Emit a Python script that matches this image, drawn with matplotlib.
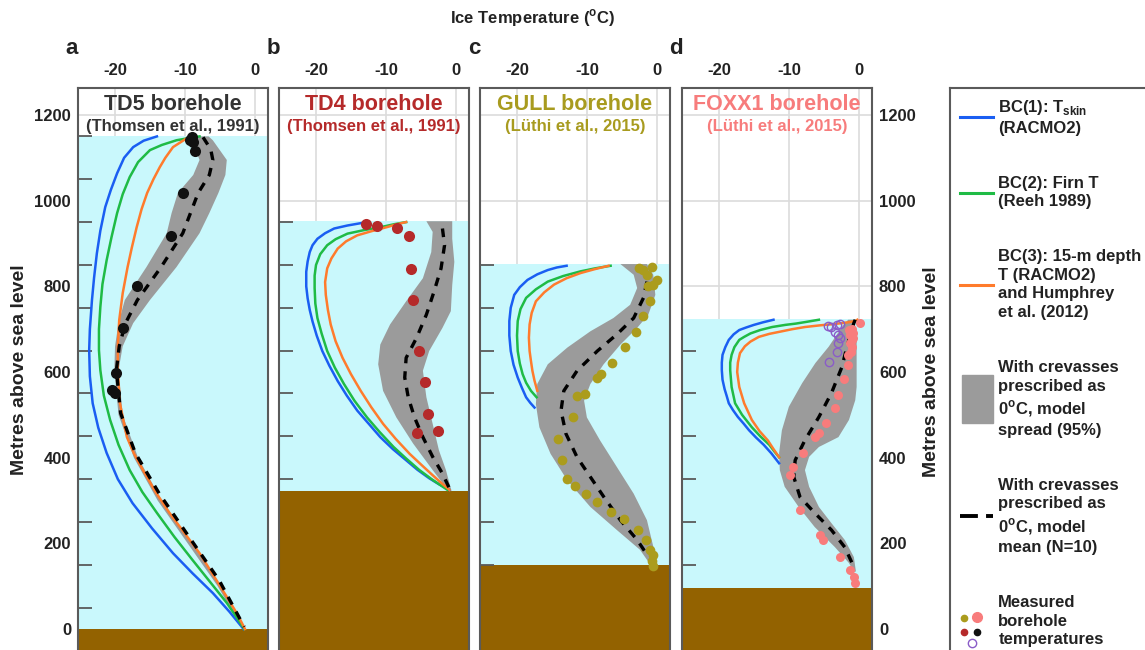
import numpy as np
import matplotlib
matplotlib.use('Agg')
import matplotlib.pyplot as plt
from matplotlib.lines import Line2D
from matplotlib.patches import Patch, Rectangle
from matplotlib.legend_handler import HandlerBase, HandlerPatch
from matplotlib.ticker import FixedLocator

plt.rcParams['font.family'] = ['Liberation Sans', 'DejaVu Sans']
plt.rcParams['font.weight'] = 'bold'
plt.rcParams['mathtext.fontset'] = 'custom'
plt.rcParams['mathtext.rm'] = 'Liberation Sans:bold'
plt.rcParams['mathtext.bf'] = 'Liberation Sans:bold'

# ---------------- data (elevation z in m a.s.l., temperature t in degC) ----------------
# a: TD5
td5_surface, td5_bed = 1150, 0
td5_blue_z = [1150, 1140, 1125, 1100, 1064, 1025, 985, 930, 877, 820, 768, 700, 651, 590, 527, 470, 411, 350,
              294, 235, 177, 130, 84, 40, 0]
td5_blue_t = [-14.0, -15.9, -17.4, -18.7, -19.7, -20.6, -21.4, -22.1, -22.6, -23.0, -23.3, -23.6, -23.7, -23.6,
              -23.2, -22.4, -21.2, -19.6, -17.5, -14.7, -11.7, -8.9, -6.0, -3.6, -1.6]
td5_green_z = [1150, 1145, 1141, 1130, 1118, 1090, 1055, 1015, 971, 915, 861, 805, 752, 700, 651, 604, 545, 488,
               430, 371, 320, 271, 215, 161, 110, 61, 30, 0]
td5_green_t = [-7.9, -9.8, -11.2, -13.3, -15.0, -16.7, -17.9, -18.9, -19.7, -20.5, -21.2, -21.8, -22.1, -22.3,
               -22.3, -22.1, -21.6, -20.7, -19.5, -17.9, -16.1, -14.0, -11.5, -8.9, -6.4, -4.0, -2.7, -1.5]
td5_orange_z = [1146, 1125, 1100, 1078, 1050, 1018, 980, 938, 890, 845, 784, 721, 660, 604, 527, 448, 410, 371,
                320, 271, 225, 177, 125, 75, 35, 0]
td5_orange_t = [-9.7, -11.7, -12.8, -13.6, -14.5, -15.4, -16.2, -16.9, -17.6, -18.2, -18.9, -19.4, -19.6, -19.6,
                -19.3, -18.3, -17.3, -16.0, -14.2, -12.2, -10.1, -7.9, -5.9, -4.0, -2.5, -1.4]
td5_mean_z = [1148, 1120, 1095, 1060, 1018, 971, 924, 845, 768, 714, 660, 604, 504, 411, 317, 215, 114, 5]
td5_mean_t = [-7.4, -6.3, -6.0, -6.5, -8.1, -9.2, -10.3, -13.4, -16.8, -18.5, -19.4, -19.8, -19.2, -17.1, -13.7,
              -9.4, -5.1, -1.5]
td5_lo_z = [1150, 1141, 1095, 1060, 1018, 971, 924, 845, 768, 714, 660, 604, 500, 400, 300, 200, 100, 0]
td5_lo_t = [-9.4, -9.0, -7.9, -8.8, -11.0, -11.9, -12.6, -15.5, -18.6, -19.5, -20.0, -20.1, -19.5, -17.3, -13.9,
            -9.6, -5.3, -1.7]
td5_hi_z = td5_lo_z
td5_hi_t = [-6.6, -6.0, -4.0, -4.2, -5.2, -6.5, -7.9, -11.2, -15.0, -17.4, -18.9, -19.5, -18.9, -16.7, -13.3,
            -9.0, -4.8, -1.3]
td5_obs_z = [1148, 1141, 1137, 1116, 1018, 917, 801, 703, 597, 558, 551]
td5_obs_t = [-9.0, -9.3, -8.9, -8.6, -10.3, -12.0, -16.9, -18.9, -19.9, -20.5, -20.0]

# b: TD4
td4_surface, td4_bed = 952, 322
td4_blue_z = [948, 942, 935, 924, 911, 896, 880, 858, 834, 800, 772, 745, 718, 685, 649, 615, 579, 545, 510,
              480, 448, 420, 394, 372, 352, 338, 325]
td4_blue_t = [-13.4, -15.5, -17.4, -18.7, -19.8, -20.5, -20.9, -21.2, -21.4, -21.4, -21.2, -20.9, -20.5, -19.9,
              -19.1, -18.1, -16.9, -15.6, -14.1, -12.5, -10.8, -9.0, -7.1, -5.5, -3.8, -2.4, -0.9]
td4_green_z = [950, 945, 938, 931, 923, 910, 896, 875, 850, 825, 796, 760, 726, 690, 649, 610, 572, 533, 494,
               460, 425, 398, 371, 348, 325]
td4_green_t = [-7.1, -8.8, -10.8, -13.2, -15.5, -17.2, -18.4, -19.4, -20.0, -20.2, -20.2, -20.1, -19.8, -19.2,
               -18.4, -17.3, -16.0, -14.5, -12.7, -10.9, -8.9, -7.1, -5.2, -3.3, -1.2]
td4_orange_z = [950, 945, 938, 929, 919, 905, 888, 865, 842, 810, 780, 745, 711, 672, 633, 595, 556, 518, 479,
                444, 409, 383, 359, 340, 325]
td4_orange_t = [-7.1, -8.4, -9.9, -12.0, -14.1, -15.7, -16.9, -17.8, -18.4, -18.7, -18.6, -18.3, -17.9, -17.2,
                -16.2, -15.0, -13.6, -12.1, -10.4, -8.6, -6.6, -4.9, -3.3, -2.0, -0.9]
td4_mean_z = [935, 896, 842, 788, 734, 680, 633, 587, 541, 494, 448, 402, 363, 328]
td4_mean_t = [-1.9, -1.6, -2.1, -3.1, -4.2, -5.6, -7.1, -7.3, -6.8, -5.9, -4.7, -3.3, -1.9, -0.9]
td4_lo_z = [952, 927, 880, 819, 765, 711, 664, 618, 556, 494, 433, 371, 322]
td4_lo_t = [-4.2, -3.3, -3.5, -4.7, -7.1, -9.4, -10.8, -11.1, -10.4, -8.5, -6.1, -3.3, -1.0]
td4_hi_z = [952, 911, 857, 803, 742, 703, 649, 603, 541, 479, 417, 371, 322]
td4_hi_t = [-0.5, -0.5, -0.2, -0.5, -0.7, -1.9, -3.8, -4.7, -4.2, -3.3, -2.4, -1.4, -0.6]
td4_obs_z = [945, 941, 936, 917, 840, 769, 650, 577, 502, 457, 463]
td4_obs_t = [-12.8, -11.2, -8.4, -6.7, -6.4, -6.1, -5.2, -4.4, -3.9, -5.6, -2.5]

# c: GULL
gull_surface, gull_bed = 852, 150
gull_blue_z = [848, 844, 838, 828, 815, 798, 780, 750, 719, 685, 649, 617, 587, 563, 541, 528, 517]
gull_blue_t = [-12.9, -14.3, -15.6, -17.1, -18.5, -19.6, -20.4, -20.9, -21.1, -21.1, -20.9, -20.5, -19.9, -19.3,
               -18.7, -18.1, -17.5]
gull_green_z = [848, 842, 835, 824, 811, 793, 773, 747, 719, 685, 649, 620, 595, 575, 556, 541]
gull_green_t = [-6.6, -8.8, -10.9, -13.4, -15.6, -17.3, -18.7, -19.5, -19.9, -20.0, -19.9, -19.6, -19.2, -18.7,
                -18.0, -17.2]
gull_orange_z = [848, 840, 831, 819, 804, 786, 765, 738, 711, 680, 649, 625, 603, 580, 556]
gull_orange_t = [-6.9, -8.9, -10.9, -12.9, -14.7, -16.1, -17.3, -17.9, -18.2, -18.3, -18.2, -18.0, -17.8, -17.5,
                 -17.1]
gull_mean_z = [811, 773, 726, 688, 649, 603, 556, 510, 456, 401, 355, 309, 254, 208, 169]
gull_mean_t = [-1.4, -1.9, -3.3, -5.7, -8.5, -11.4, -13.3, -13.7, -13.0, -11.4, -9.5, -7.6, -5.2, -2.8, -1.2]
gull_lo_z = [852, 827, 796, 757, 726, 695, 657, 618, 572, 525, 471, 409, 347, 285, 231, 185, 150]
gull_lo_t = [-5.2, -3.3, -2.8, -3.8, -6.2, -9.5, -12.8, -15.6, -17.1, -17.3, -16.8, -15.2, -12.8, -9.5, -5.7,
             -2.4, -0.9]
gull_hi_z = [852, 827, 780, 734, 703, 664, 618, 572, 533, 494, 440, 378, 316, 254, 193, 150]
gull_hi_t = [-1.4, -0.5, -0.2, -1.2, -2.8, -5.2, -7.6, -9.5, -10.4, -10.0, -8.1, -5.7, -3.3, -1.4, -0.5, -0.2]
gull_obs_z = [842, 838, 846, 827, 815, 804, 800, 765, 730, 694, 659, 622, 595, 586, 548, 543, 496,
              443, 394, 351, 334, 315, 297, 274, 256, 230, 207, 185, 173, 158, 146]
gull_obs_t = [-2.6, -1.9, -0.7, -1.4, 0.0, -0.5, -1.2, -0.9, -1.9, -2.9, -4.6, -6.4, -8.0, -8.5, -10.3, -11.4,
              -12.0, -14.1, -13.6, -12.8, -11.7, -10.1, -8.5, -6.6, -4.7, -2.7, -1.6, -0.9, -0.6, -0.7, -0.6]

# d: FOXX1
foxx_surface, foxx_bed = 724, 95
foxx_blue_z = [722, 716, 710, 704, 698, 688, 675, 658, 640, 622, 604, 582, 560, 544, 527, 511, 495, 480, 464,
               447, 430, 410, 387]
foxx_blue_t = [-12.2, -13.7, -15.0, -16.1, -17.1, -17.9, -18.6, -19.1, -19.5, -19.6, -19.6, -19.5, -19.2, -18.9,
               -18.6, -18.0, -17.3, -16.5, -15.7, -14.7, -13.6, -12.5, -11.4]
foxx_green_z = [722, 717, 713, 710, 705, 698, 690, 682, 675, 658, 640, 622, 604, 565, 527, 500, 471, 450, 430,
                415, 401]
foxx_green_t = [-5.7, -7.5, -9.0, -10.5, -12.4, -14.1, -15.5, -16.4, -17.1, -17.8, -18.2, -18.4, -18.4, -18.2,
                -17.7, -16.7, -15.3, -14.1, -12.8, -12.1, -11.4]
foxx_orange_z = [722, 719, 716, 712, 709, 705, 700, 695, 689, 682, 671, 660, 644, 622, 600, 565, 527, 488, 462,
                 440, 420, 401]
foxx_orange_t = [-0.2, -0.5, -1.5, -3.5, -5.5, -7.7, -9.5, -11.0, -12.8, -14.3, -15.5, -16.3, -17.0, -17.3, -17.4,
                 -17.1, -16.4, -15.3, -14.2, -13.0, -12.2, -11.4]
foxx_mean_z = [722, 714, 658, 612, 551, 495, 441, 394, 355, 308, 271, 231, 191, 145]
foxx_mean_t = [-0.5, -0.7, -1.7, -2.4, -3.9, -5.7, -7.7, -9.1, -9.3, -8.4, -6.3, -3.9, -2.0, -0.7]
foxx_lo_z = [722, 710, 659, 621, 574, 519, 464, 411, 371, 332, 285, 238, 191, 154, 134]
foxx_lo_t = [-1.5, -2.2, -4.3, -6.2, -8.1, -10.0, -11.0, -11.4, -11.3, -10.6, -8.6, -6.3, -3.4, -1.4, -0.7]
foxx_hi_z = [722, 717, 682, 565, 534, 488, 448, 425, 402, 371, 332, 285, 247, 208, 168, 134]
foxx_hi_t = [-0.6, -0.8, -0.3, -0.3, -0.5, -1.4, -2.9, -5.7, -7.1, -7.7, -7.1, -5.7, -3.9, -2.0, -0.7, -0.4]
foxx_obs_z = [714, 700, 698, 690, 686, 680, 675, 668, 658, 647, 640, 616, 583, 546, 516, 481, 457, 448,
              411, 378, 359, 278, 219, 208, 168, 138, 121, 107]
foxx_obs_t = [0.2, -0.9, -1.4, -0.8, -1.2, -0.8, -1.0, -1.2, -1.0, -1.1, -1.5, -1.6, -2.1, -2.9, -3.4, -4.7, -5.7,
              -6.3, -8.0, -9.4, -9.9, -8.4, -5.6, -5.1, -2.7, -1.3, -0.7, -0.6]
foxx_obs2_z = [707, 705, 710, 712, 693, 686, 679, 668, 647, 623]
foxx_obs2_t = [-4.4, -3.9, -3.1, -2.7, -3.4, -2.9, -2.7, -2.9, -3.1, -4.3]

panel_letters = ['a', 'b', 'c', 'd']
titles = ['TD5 borehole', 'TD4 borehole', 'GULL borehole', 'FOXX1 borehole']
sources = ['(Thomsen et al., 1991)', '(Thomsen et al., 1991)', '(L\u00fcthi et al., 2015)', '(L\u00fcthi et al., 2015)']
x_ticks = [-20, -10, 0]
y_ticks = [0, 200, 400, 600, 800, 1000, 1200]

legend_labels = ['BC(1): T$_{\\mathbf{skin}}$\n(RACMO2)',
                 'BC(2): Firn T\n(Reeh 1989)',
                 'BC(3): 15-m depth\nT (RACMO2)\nand Humphrey\net al. (2012)',
                 'With crevasses\nprescribed as\n0$^{\\mathbf{o}}$C, model\nspread (95%)',
                 'With crevasses\nprescribed as\n0$^{\\mathbf{o}}$C, model\nmean (N=10)',
                 'Measured\nborehole\ntemperatures']

# ---------------- style ----------------
C_BLUE = '#1a5ef2'
C_GREEN = '#1fbb45'
C_ORANGE = '#ff7b2c'
C_BAND = '#9b9b9b'
C_ICE = '#c9f8fc'
C_ROCK = '#936200'
C_SPINE = '#5a5a5a'
title_colors = ['#333333', '#b52a2a', '#a89b1f', '#f77c7c']
obs_colors = ['#111111', '#b52a2a', '#ab9c1d', '#f87c7c']
obs_sizes = [8, 8, 7, 6.5]

panels = [
    dict(surface=td5_surface, bed=td5_bed, blue=(td5_blue_t, td5_blue_z), green=(td5_green_t, td5_green_z),
         orange=(td5_orange_t, td5_orange_z), mean=(td5_mean_t, td5_mean_z),
         lo=(td5_lo_t, td5_lo_z), hi=(td5_hi_t, td5_hi_z), obs=(td5_obs_t, td5_obs_z)),
    dict(surface=td4_surface, bed=td4_bed, blue=(td4_blue_t, td4_blue_z), green=(td4_green_t, td4_green_z),
         orange=(td4_orange_t, td4_orange_z), mean=(td4_mean_t, td4_mean_z),
         lo=(td4_lo_t, td4_lo_z), hi=(td4_hi_t, td4_hi_z), obs=(td4_obs_t, td4_obs_z)),
    dict(surface=gull_surface, bed=gull_bed, blue=(gull_blue_t, gull_blue_z), green=(gull_green_t, gull_green_z),
         orange=(gull_orange_t, gull_orange_z), mean=(gull_mean_t, gull_mean_z),
         lo=(gull_lo_t, gull_lo_z), hi=(gull_hi_t, gull_hi_z), obs=(gull_obs_t, gull_obs_z)),
    dict(surface=foxx_surface, bed=foxx_bed, blue=(foxx_blue_t, foxx_blue_z), green=(foxx_green_t, foxx_green_z),
         orange=(foxx_orange_t, foxx_orange_z), mean=(foxx_mean_t, foxx_mean_z),
         lo=(foxx_lo_t, foxx_lo_z), hi=(foxx_hi_t, foxx_hi_z), obs=(foxx_obs_t, foxx_obs_z)),
]

W, H = 1145, 650
fig = plt.figure(figsize=(W / 100, H / 100), dpi=100)

lefts = [78, 279, 480, 682]
ax_w = 190
ax_top = 88

for i, p in enumerate(panels):
    ax = fig.add_axes([lefts[i] / W, 0, ax_w / W, (H - ax_top) / H])
    ax.set_xlim(-25.3, 1.9)
    ax.set_ylim(-49, 1263)

    # grid, only visible above the ice
    for xv in x_ticks:
        ax.axvline(xv, color='#dcdcdc', lw=1.2, zorder=0.5)
    for yv in y_ticks:
        ax.axhline(yv, color='#dcdcdc', lw=1.2, zorder=0.5)

    ax.axhspan(p['bed'], p['surface'], color=C_ICE, lw=0, zorder=1)
    ax.axhspan(-100, p['bed'], color=C_ROCK, lw=0, zorder=1.1)

    lo_t, lo_z = p['lo']
    hi_t, hi_z = p['hi']
    ax.fill(np.r_[lo_t, hi_t[::-1]], np.r_[lo_z, hi_z[::-1]], color=C_BAND, lw=0, zorder=2)

    ax.plot(*p['blue'], color=C_BLUE, lw=1.8, zorder=3)
    ax.plot(*p['green'], color=C_GREEN, lw=1.8, zorder=3)
    ax.plot(*p['orange'], color=C_ORANGE, lw=1.8, zorder=3)
    ax.plot(*p['mean'], color='k', lw=2.4, dashes=(2.6, 2.4), zorder=4)

    ax.plot(*p['obs'], 'o', ms=obs_sizes[i], color=obs_colors[i], mec='none', zorder=5)
    if i == 3:
        ax.plot(foxx_obs2_t, foxx_obs2_z, 'o', ms=6, mfc='none', mec='#8a5cc8', mew=1.0, zorder=6)

    ax.text(0.5, 0.970, titles[i], transform=ax.transAxes, ha='center', va='center',
            fontsize=15.5, color=title_colors[i], zorder=7)
    ax.text(0.5, 0.931, sources[i], transform=ax.transAxes, ha='center', va='center',
            fontsize=12, color=title_colors[i], zorder=7)

    # axes decoration
    ax.xaxis.tick_top()
    ax.set_xticks(x_ticks)
    ax.set_xticklabels([str(v) for v in x_ticks])
    ax.tick_params(axis='x', which='major', length=0, pad=7, labelsize=12, labelcolor='#222222')
    ax.set_yticks(y_ticks)
    ax.set_yticklabels([str(v) for v in y_ticks])
    ax.tick_params(axis='y', which='major', length=0, left=True, right=True,
                   labelleft=(i == 0), labelright=(i == 3), pad=5, labelsize=12, labelcolor='#222222')
    minor = [v for v in range(50, 1250, 100) if p['bed'] <= v <= p['surface']]
    ax.yaxis.set_minor_locator(FixedLocator(minor))
    ax.tick_params(axis='y', which='minor', direction='in', length=10, width=1.3,
                   color=C_SPINE, left=True, right=False)
    ax.tick_params(axis='x', which='minor', length=0)
    for s in ['top', 'left', 'right']:
        ax.spines[s].set_color(C_SPINE)
        ax.spines[s].set_linewidth(1.5)
        ax.spines[s].set_zorder(8)
    ax.spines['bottom'].set_visible(False)

    fig.text((lefts[i] - 6) / W, 1 - 48 / H, panel_letters[i], fontsize=16, ha='center', va='center',
             color='#222222')

fig.text(533 / W, 1 - 18 / H, 'Ice Temperature ($^{\\mathbf{o}}$C)', fontsize=12, ha='center', va='center',
         color='#222222')
fig.text(20 / W, 1 - 370 / H, 'Metres above sea level', rotation=90, fontsize=14, ha='center', va='center',
         color='#222222')
fig.text(932 / W, 1 - 372 / H, 'Metres above sea level', rotation=90, fontsize=14, ha='center', va='center',
         color='#222222')


# ---------------- legend ----------------
class DotsProxy:
    pass


class DotsHandler(HandlerBase):
    def create_artists(self, legend, orig_handle, xdescent, ydescent, width, height, fontsize, trans):
        cy = height / 2 - ydescent
        spots = [(2.9, 2.5, 4.5, '#ab9c1d', '#ab9c1d'),
                 (12.5, 3.5, 7, '#f87c7c', '#f87c7c'),
                 (2.9, -8.0, 4.5, '#b52a2a', '#b52a2a'),
                 (12.5, -8.0, 4.5, '#111111', '#111111'),
                 (8.8, -15.5, 6, 'none', '#8a5cc8')]
        arts = []
        for dx, dy, ms, fc, ec in spots:
            arts.append(Line2D([dx - xdescent], [cy + dy], marker='o', ms=ms, mfc=fc, mec=ec,
                               mew=1.0, ls='none', transform=trans))
        return arts


def big_patch(legend, orig_handle, xdescent, ydescent, width, height, fontsize):
    return Rectangle((-xdescent + 1.5, height / 2 - ydescent - 17.5), width - 1.5, 35)


lax = fig.add_axes([950 / W, -0.05, 0.25, (H - ax_top) / H + 0.05])
lax.set_xticks([])
lax.set_yticks([])
for s in lax.spines.values():
    s.set_color(C_SPINE)
    s.set_linewidth(1.5)

handles = [Line2D([], [], color=C_BLUE, lw=2.2),
           Line2D([], [], color=C_GREEN, lw=2.2),
           Line2D([], [], color=C_ORANGE, lw=2.2),
           Patch(color=C_BAND),
           Line2D([], [], color='k', lw=2.8, dashes=(4.6, 2.1)),
           DotsProxy()]
leg = lax.legend(handles, legend_labels, loc='upper left', bbox_to_anchor=(0, 1), frameon=False,
                 fontsize=12, handlelength=2.0, handletextpad=0.3, labelspacing=2.4,
                 borderaxespad=0.1, borderpad=0.5, labelcolor='#222222',
                 handler_map={DotsProxy: DotsHandler(), Patch: HandlerPatch(patch_func=big_patch)})
for t in leg.get_texts():
    t.set_linespacing(1.3)

fig.savefig('out.png', dpi=100)
